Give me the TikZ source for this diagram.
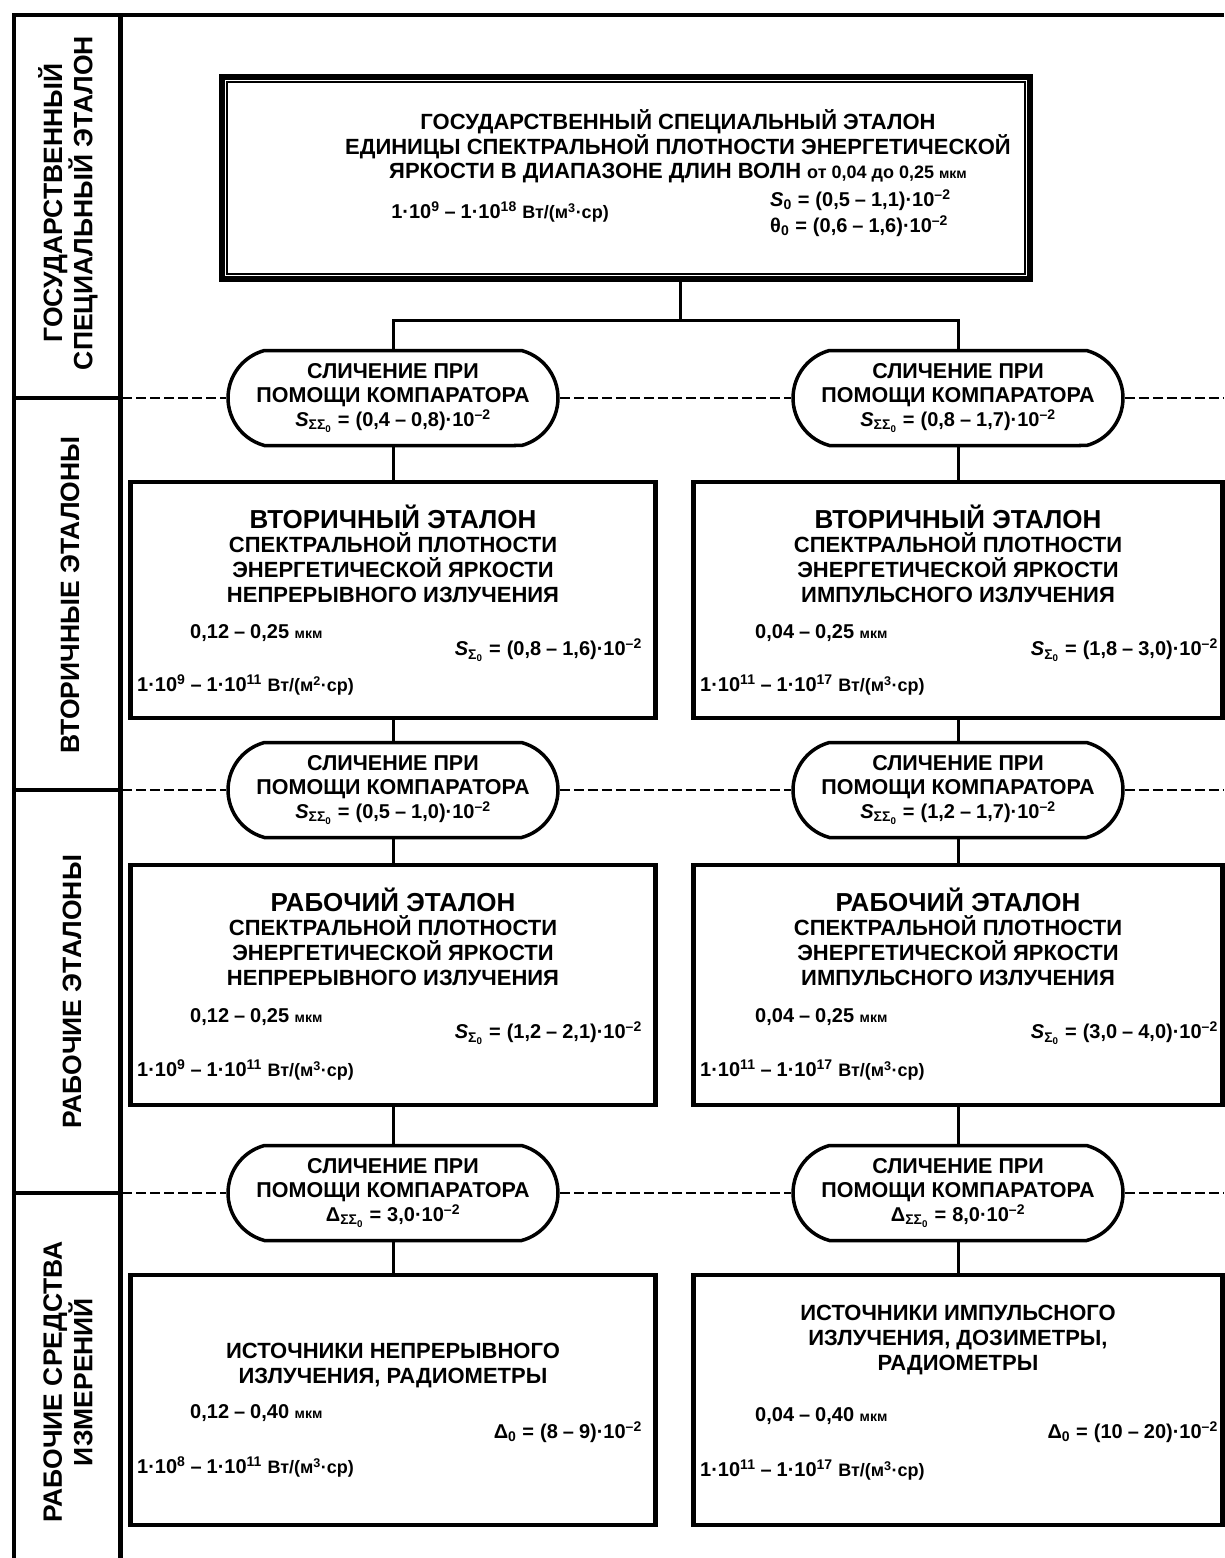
\documentclass[tikz,border=0pt]{standalone}
\usepackage{fontspec}
\setmainfont{Liberation Sans}
\usetikzlibrary{shapes.misc}
\newcommand\sbx[1]{\textsubscript{#1}}
\newcommand\spx[1]{\textsuperscript{#1}}
\newcommand\fS{\fontsize{22}{25}\selectfont}
\newcommand\fO{\fontsize{21.5}{24}\selectfont}
\newcommand\fT{\fontsize{26}{27}\selectfont}
\newcommand\fP{\fontsize{20}{24}\selectfont}
\newcommand\fU{\fontsize{14}{18}\selectfont}
\newcommand\fV{\fontsize{18}{20}\selectfont}
\newcommand\eqq{\hspace{0.3em}=\hspace{0.3em}}
\newcommand\dd{\hspace{0.25em}–\hspace{0.25em}}
\newcommand\unitv[1]{{\fV Вт/(м\spx{#1}·ср)}}
\tikzset{
  frame/.style={line width=4pt},
  colline/.style={line width=5pt},
  boxn/.style={draw, line width=4.5pt, inner sep=0pt},
  oval/.style={draw, rounded rectangle, rounded rectangle arc length=150, line width=3.5pt,
    minimum width=330pt, minimum height=95pt, inner sep=0pt, align=center, font=\bfseries\fO},
  conn/.style={line width=3pt},
  dsh/.style={line width=2pt, dash pattern=on 10pt off 4pt},
  txt/.style={inner sep=0pt, align=center, font=\bfseries\fS},
  ttl/.style={inner sep=0pt, align=center, font=\bfseries\fT},
  par/.style={inner sep=0pt, font=\bfseries\fP},
  side/.style={inner sep=0pt, rotate=90, align=center, font=\bfseries\fontsize{26.5}{27}\selectfont}
}
\begin{document}
\begin{tikzpicture}[x=1pt,y=-1pt]
\useasboundingbox (0,0) rectangle (1224,1558);
\fill[white] (0,0) rectangle (1224,1558);
% frame
\draw[frame] (14,1558) -- (14,15) -- (1224,15);
\draw[colline] (120,13) -- (120,1558);
\draw[frame] (14,398) -- (120,398);
\draw[frame] (14,790) -- (120,790);
\draw[frame] (14,1193) -- (120,1193);
% side labels
\node[side] (s1) at (68,203) {ГОСУДАРСТВЕННЫЙ\\СПЕЦИАЛЬНЫЙ ЭТАЛОН};
\node[side] (s2) at (70,595) {ВТОРИЧНЫЕ ЭТАЛОНЫ};
\node[side] (s3) at (72,992) {РАБОЧИЕ ЭТАЛОНЫ};
\node[side] (s4) at (68,1382) {РАБОЧИЕ СРЕДСТВА\\ИЗМЕРЕНИЙ};
% top box
\node[boxn, line width=6pt, minimum width=808pt, minimum height=202pt] (top) at (626,178) {};
\draw[line width=2.5pt] ([xshift=8pt,yshift=-8pt]top.north west) rectangle ([xshift=-8pt,yshift=8pt]top.south east);
\node[txt, font=\bfseries\fontsize{22}{23.5}\selectfont] (t1) at (678,146) {ГОСУДАРСТВЕННЫЙ СПЕЦИАЛЬНЫЙ ЭТАЛОН\\ЕДИНИЦЫ СПЕКТРАЛЬНОЙ ПЛОТНОСТИ ЭНЕРГЕТИЧЕСКОЙ\\ЯРКОСТИ В ДИАПАЗОНЕ ДЛИН ВОЛН {\fontsize{18}{20}\selectfont от 0,04 до 0,25 {\fU мкм}}};
\node[par] (t2) at (500,212) {1·10\spx{9}\dd 1·10\spx{18} \unitv{3}};
\node[par, anchor=west] (t3) at (770,200) {\textit{S}\sbx{0}\eqq(0,5\dd 1,1)·10\spx{–2}};
\node[par, anchor=west] (t4) at (770,226) {θ\sbx{0}\eqq(0,6\dd 1,6)·10\spx{–2}};
% ovals row 1
\node[oval] (o1l) at (393,398) {СЛИЧЕНИЕ ПРИ\\ПОМОЩИ КОМПАРАТОРА\\{\fP\textit{S}\sbx{ΣΣ\sbx{0}}\eqq(0,4\dd 0,8)·10\spx{–2}}};
\node[oval] (o1r) at (958,398) {СЛИЧЕНИЕ ПРИ\\ПОМОЩИ КОМПАРАТОРА\\{\fP\textit{S}\sbx{ΣΣ\sbx{0}}\eqq(0,8\dd 1,7)·10\spx{–2}}};
\coordinate (j) at (680,320);
\draw[conn] (top.south -| j) -- (j);
\draw[conn] (o1l.north) |- (j) -| (o1r.north);
\coordinate (d1a) at (122,398);
\coordinate (d1b) at (1224,398);
\draw[dsh] (d1a) -- (o1l.west);
\draw[dsh] (o1l.east) -- (o1r.west);
\draw[dsh] (o1r.east) -- (d1b);
% row 2 boxes
\node[boxn, minimum width=525pt, minimum height=236pt] (b2l) at (393,600) {};
\node[boxn, minimum width=529pt, minimum height=236pt] (b2r) at (958,600) {};
\draw[conn] (o1l.south) -- (b2l.north);
\draw[conn] (o1r.south) -- (b2r.north);
\node[ttl] (b2lt) at (393,517) {ВТОРИЧНЫЙ ЭТАЛОН};
\node[txt] (b2lx) at (393,568) {СПЕКТРАЛЬНОЙ ПЛОТНОСТИ\\ЭНЕРГЕТИЧЕСКОЙ ЯРКОСТИ\\НЕПРЕРЫВНОГО ИЗЛУЧЕНИЯ};
\node[par, anchor=west] (b2la) at (190,633) {0,12\dd 0,25 {\fU мкм}};
\node[par, anchor=east] (b2lb) at (642,650) {\textit{S}\sbx{Σ\sbx{0}}\eqq(0,8\dd 1,6)·10\spx{–2}};
\node[par, anchor=west] (b2lc) at (137,685) {1·10\spx{9}\dd 1·10\spx{11} \unitv{2}};
\node[ttl] (b2rt) at (958,517) {ВТОРИЧНЫЙ ЭТАЛОН};
\node[txt] (b2rx) at (958,568) {СПЕКТРАЛЬНОЙ ПЛОТНОСТИ\\ЭНЕРГЕТИЧЕСКОЙ ЯРКОСТИ\\ИМПУЛЬСНОГО ИЗЛУЧЕНИЯ};
\node[par, anchor=west] (b2ra) at (755,633) {0,04\dd 0,25 {\fU мкм}};
\node[par, anchor=east] (b2rb) at (1218,650) {\textit{S}\sbx{Σ\sbx{0}}\eqq(1,8\dd 3,0)·10\spx{–2}};
\node[par, anchor=west] (b2rc) at (700,685) {1·10\spx{11}\dd 1·10\spx{17} \unitv{3}};
% ovals row 2
\node[oval] (o2l) at (393,790) {СЛИЧЕНИЕ ПРИ\\ПОМОЩИ КОМПАРАТОРА\\{\fP\textit{S}\sbx{ΣΣ\sbx{0}}\eqq(0,5\dd 1,0)·10\spx{–2}}};
\node[oval] (o2r) at (958,790) {СЛИЧЕНИЕ ПРИ\\ПОМОЩИ КОМПАРАТОРА\\{\fP\textit{S}\sbx{ΣΣ\sbx{0}}\eqq(1,2\dd 1,7)·10\spx{–2}}};
\draw[conn] (b2l.south) -- (o2l.north);
\draw[conn] (b2r.south) -- (o2r.north);
\coordinate (d2a) at (122,790);
\coordinate (d2b) at (1224,790);
\draw[dsh] (d2a) -- (o2l.west);
\draw[dsh] (o2l.east) -- (o2r.west);
\draw[dsh] (o2r.east) -- (d2b);
% row 3 boxes
\node[boxn, minimum width=525pt, minimum height=240pt] (b3l) at (393,985) {};
\node[boxn, minimum width=529pt, minimum height=240pt] (b3r) at (958,985) {};
\draw[conn] (o2l.south) -- (b3l.north);
\draw[conn] (o2r.south) -- (b3r.north);
\node[ttl] (b3lt) at (393,900) {РАБОЧИЙ ЭТАЛОН};
\node[txt] (b3lx) at (393,951) {СПЕКТРАЛЬНОЙ ПЛОТНОСТИ\\ЭНЕРГЕТИЧЕСКОЙ ЯРКОСТИ\\НЕПРЕРЫВНОГО ИЗЛУЧЕНИЯ};
\node[par, anchor=west] (b3la) at (190,1017) {0,12\dd 0,25 {\fU мкм}};
\node[par, anchor=east] (b3lb) at (642,1033) {\textit{S}\sbx{Σ\sbx{0}}\eqq(1,2\dd 2,1)·10\spx{–2}};
\node[par, anchor=west] (b3lc) at (137,1070) {1·10\spx{9}\dd 1·10\spx{11} \unitv{3}};
\node[ttl] (b3rt) at (958,900) {РАБОЧИЙ ЭТАЛОН};
\node[txt] (b3rx) at (958,951) {СПЕКТРАЛЬНОЙ ПЛОТНОСТИ\\ЭНЕРГЕТИЧЕСКОЙ ЯРКОСТИ\\ИМПУЛЬСНОГО ИЗЛУЧЕНИЯ};
\node[par, anchor=west] (b3ra) at (755,1017) {0,04\dd 0,25 {\fU мкм}};
\node[par, anchor=east] (b3rb) at (1218,1033) {\textit{S}\sbx{Σ\sbx{0}}\eqq(3,0\dd 4,0)·10\spx{–2}};
\node[par, anchor=west] (b3rc) at (700,1070) {1·10\spx{11}\dd 1·10\spx{17} \unitv{3}};
% ovals row 3
\node[oval] (o3l) at (393,1193) {СЛИЧЕНИЕ ПРИ\\ПОМОЩИ КОМПАРАТОРА\\{\fP Δ\sbx{ΣΣ\sbx{0}}\eqq 3,0·10\spx{–2}}};
\node[oval] (o3r) at (958,1193) {СЛИЧЕНИЕ ПРИ\\ПОМОЩИ КОМПАРАТОРА\\{\fP Δ\sbx{ΣΣ\sbx{0}}\eqq 8,0·10\spx{–2}}};
\draw[conn] (b3l.south) -- (o3l.north);
\draw[conn] (b3r.south) -- (o3r.north);
\coordinate (d3a) at (122,1193);
\coordinate (d3b) at (1224,1193);
\draw[dsh] (d3a) -- (o3l.west);
\draw[dsh] (o3l.east) -- (o3r.west);
\draw[dsh] (o3r.east) -- (d3b);
% row 4 boxes
\node[boxn, minimum width=525pt, minimum height=250pt] (b4l) at (393,1400) {};
\node[boxn, minimum width=529pt, minimum height=250pt] (b4r) at (958,1400) {};
\draw[conn] (o3l.south) -- (b4l.north);
\draw[conn] (o3r.south) -- (b4r.north);
\node[txt] (b4lx) at (393,1365) {ИСТОЧНИКИ НЕПРЕРЫВНОГО\\ИЗЛУЧЕНИЯ, РАДИОМЕТРЫ};
\node[par, anchor=west] (b4la) at (190,1413) {0,12\dd 0,40 {\fU мкм}};
\node[par, anchor=east] (b4lb) at (642,1432) {Δ\sbx{0}\eqq(8\dd 9)·10\spx{–2}};
\node[par, anchor=west] (b4lc) at (137,1467) {1·10\spx{8}\dd 1·10\spx{11} \unitv{3}};
\node[txt] (b4rx) at (958,1340) {ИСТОЧНИКИ ИМПУЛЬСНОГО\\ИЗЛУЧЕНИЯ, ДОЗИМЕТРЫ,\\РАДИОМЕТРЫ};
\node[par, anchor=west] (b4ra) at (755,1416) {0,04\dd 0,40 {\fU мкм}};
\node[par, anchor=east] (b4rb) at (1218,1432) {Δ\sbx{0}\eqq(10\dd 20)·10\spx{–2}};
\node[par, anchor=west] (b4rc) at (700,1470) {1·10\spx{11}\dd 1·10\spx{17} \unitv{3}};
\end{tikzpicture}
\end{document}
